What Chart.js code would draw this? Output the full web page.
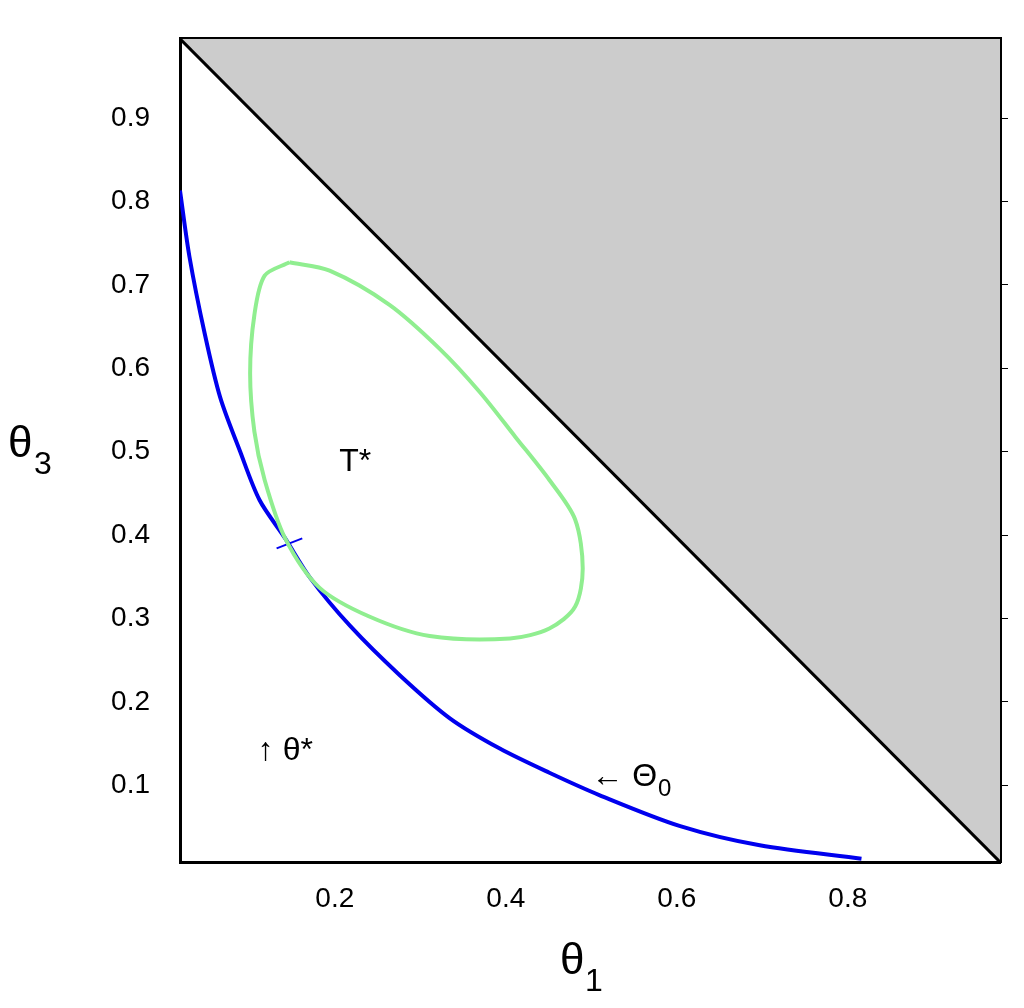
<!DOCTYPE html>
<html>
<head>
<script src="https://cdn.jsdelivr.net/npm/chart.js@4"></script>
<style>body{margin:0;background:#fff}#wrap{width:1024px;height:1008px}</style>
</head>
<body>
<div id="wrap"><canvas id="c"></canvas></div>
<script>
const xTicks = [0.2, 0.4, 0.6, 0.8];
const yTicks = [0.1, 0.2, 0.3, 0.4, 0.5, 0.6, 0.7, 0.8, 0.9];
const xRange = [0.019, 0.978];
const yRange = [0.008, 0.995];

const blueX = [0.019, 0.030, 0.048, 0.066, 0.089, 0.112, 0.142, 0.171, 0.218, 0.276, 0.335, 0.393, 0.451, 0.510, 0.604, 0.697, 0.816];
const blueY = [0.813, 0.734, 0.641, 0.565, 0.501, 0.442, 0.396, 0.349, 0.291, 0.232, 0.180, 0.144, 0.115, 0.088, 0.051, 0.028, 0.012];

const greenX = [0.147, 0.118, 0.106, 0.101, 0.106, 0.118, 0.142, 0.182, 0.241, 0.311, 0.405, 0.451, 0.481, 0.490, 0.481, 0.451, 0.411, 0.370, 0.323, 0.264, 0.194, 0.147];
const greenY = [0.727, 0.711, 0.664, 0.594, 0.524, 0.466, 0.396, 0.337, 0.302, 0.279, 0.276, 0.288, 0.314, 0.360, 0.419, 0.466, 0.518, 0.571, 0.623, 0.676, 0.717, 0.727];

const crossX = [0.132, 0.162];
const crossY = [0.384, 0.396];

const pts = (xs, ys) => xs.map((x, i) => ({ x, y: ys[i] }));
const FONT = "'Liberation Sans', Arial";

const labels = {
  id: "labels",
  afterDraw(chart) {
    const ctx = chart.ctx;
    const sx = chart.scales.x, sy = chart.scales.y;
    ctx.save();
    ctx.fillStyle = "#000";
    ctx.textBaseline = "middle";
    ctx.font = "32px " + FONT;
    ctx.textAlign = "center";
    ctx.fillText("T*", sx.getPixelForValue(0.224), sy.getPixelForValue(0.487));
    ctx.textAlign = "left";
    ctx.fillText("\u2191 \u03b8*", sx.getPixelForValue(0.11), sy.getPixelForValue(0.141));
    const ax = sx.getPixelForValue(0.5), ay = sy.getPixelForValue(0.11);
    ctx.fillText("\u2190 \u0398", ax, ay);
    const w = ctx.measureText("\u2190 \u0398").width;
    ctx.font = "24px " + FONT;
    ctx.fillText("0", ax + w + 1, ay + 12);
    // axis titles
    ctx.font = "44px " + FONT;
    ctx.fillText("\u03b8", 560, 962);
    ctx.fillText("\u03b8", 8, 445);
    ctx.font = "32px " + FONT;
    ctx.fillText("1", 585, 982);
    ctx.fillText("3", 34, 465);
    ctx.restore();
  }
};

new Chart(document.getElementById("c"), {
  type: "scatter",
  data: {
    datasets: [
      { data: pts([xRange[0], xRange[1]], [yRange[1], yRange[0]]), showLine: true, borderColor: "#000", borderWidth: 3, pointRadius: 0, fill: "end", backgroundColor: "#cccccc" },
      { data: pts(greenX, greenY), showLine: true, borderColor: "#90ee90", borderWidth: 4, pointRadius: 0, tension: 0.3 },
      { data: pts(blueX, blueY), showLine: true, borderColor: "#0000ee", borderWidth: 4, pointRadius: 0, tension: 0.3 },
      { data: pts(crossX, crossY), showLine: true, borderColor: "#0000ee", borderWidth: 2, pointRadius: 0 }
    ]
  },
  options: {
    responsive: true, maintainAspectRatio: false, animation: false,
    layout: { padding: { top: 17, right: 16 } },
    plugins: { legend: { display: false }, tooltip: { enabled: false } },
    scales: {
      x: {
        min: xRange[0], max: xRange[1],
        afterBuildTicks: s => { s.ticks = xTicks.map(v => ({ value: v })); },
        afterFit: s => { s.height = 146; },
        grid: { display: false },
        border: { color: "#000", width: 3 },
        ticks: { color: "#000", font: { size: 28, family: FONT }, padding: 12, callback: v => v.toFixed(1) }
      },
      y: {
        min: yRange[0], max: yRange[1],
        afterBuildTicks: s => { s.ticks = yTicks.map(v => ({ value: v })); },
        afterFit: s => { s.width = 180; },
        grid: { display: false },
        border: { color: "#000", width: 3 },
        ticks: { color: "#000", font: { size: 28, family: FONT }, padding: 22, callback: v => v.toFixed(1) }
      },
      x2: { position: "top", min: xRange[0], max: xRange[1], afterFit: s => { s.height = 0; }, ticks: { display: false }, grid: { display: false }, border: { color: "#000", width: 3 } },
      y2: {
        position: "right", min: yRange[0], max: yRange[1],
        afterBuildTicks: s => { s.ticks = yTicks.map(v => ({ value: v })); },
        afterFit: s => { s.width = 8; },
        ticks: { display: false },
        grid: { display: true, drawOnChartArea: false, tickLength: 8, color: "#000", tickWidth: 1 },
        border: { color: "#000", width: 3 }
      }
    }
  },
  plugins: [labels]
});
</script>
</body>
</html>
